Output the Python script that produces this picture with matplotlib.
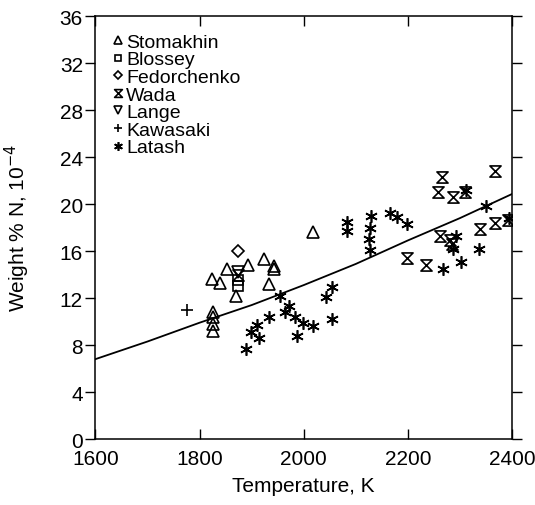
import numpy as np
import matplotlib
matplotlib.use("Agg")
import matplotlib.pyplot as plt
from matplotlib.path import Path

plt.rcParams['font.family'] = ['Liberation Sans', 'DejaVu Sans']

# data (temperature K, weight % N x 1e-4)
stomakhin_t = [1823, 1839, 1853, 1893, 1924, 1943, 1943, 1934, 2018, 1826, 1826, 1825, 1825, 1869]
stomakhin_n = [13.6, 13.3, 14.5, 14.8, 15.3, 14.75, 14.5, 13.2, 17.6, 10.8, 10.4, 9.8, 9.2, 12.2]

blossey_t = [1874, 1874]
blossey_n = [13.5, 13.0]

fedorchenko_t = [1874]
fedorchenko_n = [16.0]

wada_t = [1874, 2199, 2265, 2258, 2287, 2310, 2367, 2235, 2262, 2281, 2284, 2339, 2367, 2393]
wada_n = [14.0, 15.4, 22.3, 21.0, 20.6, 21.0, 22.8, 14.8, 17.25, 16.9, 16.6, 17.9, 18.4, 18.6]

lange_t = [1874]
lange_n = [14.2]

kawasaki_t = [1775]
kawasaki_n = [11.0]

latash_t = [1933, 1911, 1898, 1915, 1889, 1954, 1972, 1964, 1983, 1998, 2017, 1988,
            2042, 2055, 2055, 2084, 2084, 2129, 2127, 2126, 2127, 2166, 2180, 2198,
            2292, 2287, 2268, 2302, 2337, 2351, 2311, 2395]
latash_n = [10.4, 9.7, 9.1, 8.6, 7.7, 12.2, 11.3, 10.8, 10.4, 9.9, 9.6, 8.8,
            12.1, 12.9, 10.2, 18.5, 17.7, 19.0, 18.0, 17.0, 16.1, 19.2, 18.9, 18.3,
            17.3, 16.2, 14.5, 15.1, 16.2, 19.8, 21.2, 18.8]

# fitted curve, read at every 100 K
curve_t = [1600, 1700, 1800, 1900, 2000, 2100, 2200, 2300, 2400]
curve_n = [6.8, 8.3, 9.9, 11.4, 13.1, 14.9, 16.9, 18.8, 20.85]

hourglass = Path([(-1, 1), (1, 1), (-1, -1), (1, -1), (-1, 1)],
                 [Path.MOVETO, Path.LINETO, Path.LINETO, Path.LINETO, Path.CLOSEPOLY])

fig = plt.figure(figsize=(5.35, 5.06), dpi=100)
ax = fig.add_axes([0.1785, 0.1304, 0.7785, 0.836])

ax.plot(curve_t, curve_n, color='black', lw=1.3)

kw = dict(linestyle='none', mfc='none', mec='black', mew=1.2)
ax.plot(stomakhin_t, stomakhin_n, marker='^', ms=8, label='Stomakhin', **kw)
ax.plot(blossey_t, blossey_n, marker='s', ms=7, label='Blossey', **kw)
ax.plot(fedorchenko_t, fedorchenko_n, marker='D', ms=6.5, label='Fedorchenko', **kw)
ax.plot(wada_t, wada_n, marker=hourglass, ms=8, label='Wada', **kw)
ax.plot(lange_t, lange_n, marker='v', ms=8, label='Lange', **kw)
ax.plot(kawasaki_t, kawasaki_n, marker='+', ms=9, label='Kawasaki', **kw)
ax.plot(latash_t, latash_n, marker=(6, 2, 0), ms=9, label='Latash', **kw)

ax.set_xlim(1600, 2400)
ax.set_ylim(0, 36)
ax.set_xticks(range(1600, 2401, 200))
ax.set_yticks(range(0, 37, 4))

ax.tick_params(axis='y', direction='out', length=7, width=1, labelsize=15, pad=2)
ax.tick_params(axis='x', direction='in', length=7, width=1, labelsize=15, pad=7)
ax.tick_params(top=True, right=True)
for s in ax.spines.values():
    s.set_linewidth(1.1)

ax.set_xlabel('Temperature, K', fontsize=15, labelpad=6)
ax.set_ylabel('Weight % N, 10$^{-4}$', fontsize=15, labelpad=20)

leg = ax.legend(loc='upper left', frameon=False, fontsize=14, markerscale=0.7,
                handlelength=0.6, handletextpad=0.1, labelspacing=0.0,
                borderaxespad=0.0, bbox_to_anchor=(0.022, 0.978))

fig.savefig('out.png', dpi=100)
